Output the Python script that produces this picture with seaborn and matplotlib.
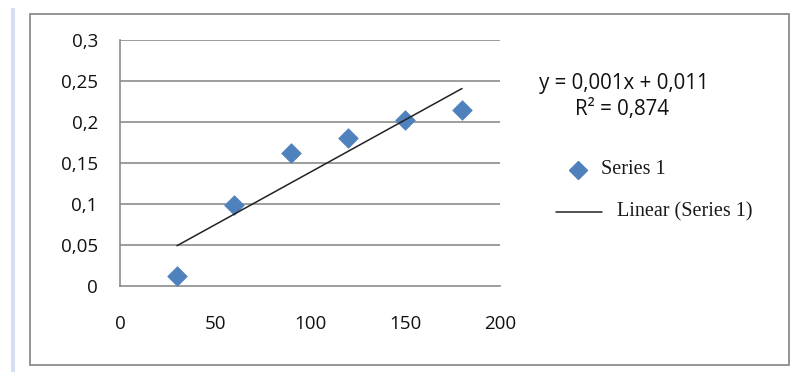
import matplotlib
matplotlib.use("Agg")
import matplotlib.pyplot as plt
import numpy as np
import pandas as pd
import seaborn as sns
from matplotlib.lines import Line2D
from matplotlib.patches import Rectangle

x_values = [30, 60, 90, 120, 150, 180]
y_values = [0.012, 0.099, 0.162, 0.180, 0.202, 0.215]
x_ticks = [0, 50, 100, 150, 200]
y_ticks = [0, 0.05, 0.1, 0.15, 0.2, 0.25, 0.3]
y_tick_labels = ["0", "0,05", "0,1", "0,15", "0,2", "0,25", "0,3"]
series_name = "Series 1"
equation_text = "y = 0,001x + 0,011"
r2_text = "R² = 0,874"

df = pd.DataFrame({"x": x_values, "y": y_values})
slope, intercept = np.polyfit(df["x"], df["y"], 1)
trend = pd.DataFrame({"x": [df["x"].min(), df["x"].max()]})
trend["y"] = slope * trend["x"] + intercept

sns.set_style("white")
plt.rcParams["font.family"] = ["Open Sans", "DejaVu Sans"]

fig = plt.figure(figsize=(8, 3.75), dpi=100)
ax = fig.add_axes([0.15, 0.2373, 0.475, 0.656])


def fx(px):
    return px / 800


def fy(py):
    return 1 - py / 375


# chart border and page edge
fig.patches.append(Rectangle((fx(30), fy(365)), 759 / 800, 351 / 375,
                             transform=fig.transFigure, fill=False,
                             edgecolor="#8c8c8c", linewidth=1.3))
fig.patches.append(Rectangle((fx(11), fy(372)), 4 / 800, 364 / 375,
                             transform=fig.transFigure, facecolor="#d6dff2",
                             edgecolor="none"))

for yv in y_ticks[1:]:
    ax.axhline(yv, color="#8c8c8c", linewidth=1.2, zorder=0)

sns.scatterplot(data=df, x="x", y="y", marker="D", s=100, color="#4f81bd",
                edgecolor="#4f81bd", linewidth=0.5, ax=ax, zorder=3)
sns.lineplot(data=trend, x="x", y="y", color="#222222", linewidth=1.1,
             ax=ax, zorder=4)

ax.set_xlim(0, 200)
ax.set_ylim(0, 0.3)
ax.set_xticks(x_ticks)
ax.set_xticklabels([str(t) for t in x_ticks])
ax.set_yticks(y_ticks)
ax.set_yticklabels(y_tick_labels)
ax.set_xlabel("")
ax.set_ylabel("")

for side in ["top", "right"]:
    ax.spines[side].set_visible(False)
for side in ["left", "bottom"]:
    ax.spines[side].set_color("#8c8c8c")
    ax.spines[side].set_linewidth(1.2)

ax.tick_params(axis="both", length=6, width=1.2, color="#8c8c8c",
               labelsize=13.5, labelcolor="#111111")
ax.tick_params(axis="y", direction="out", pad=10)
ax.tick_params(axis="x", direction="out", pad=15)

fig.text(fx(624), fy(84), equation_text, ha="center", va="center",
         fontsize=14.8, color="#111111")
fig.text(fx(622), fy(110), r2_text, ha="center", va="center",
         fontsize=14.8, color="#111111")

# legend, laid out like the spreadsheet legend
legend_font = {"family": "Liberation Serif", "size": 14.5}
fig.add_artist(Line2D([fx(578)], [fy(170)], marker="D", linestyle="none",
                      color="#4f81bd", markersize=9,
                      transform=fig.transFigure))
fig.text(fx(601), fy(170), series_name, ha="left", va="center",
         color="#1a1a1a", **legend_font)
fig.add_artist(Line2D([fx(556), fx(602)], [fy(212), fy(212)],
                      color="#222222", linewidth=1.1,
                      transform=fig.transFigure))
fig.text(fx(617), fy(212), f"Linear ({series_name})", ha="left", va="center",
         color="#1a1a1a", **legend_font)

fig.savefig("out.png", dpi=100)
